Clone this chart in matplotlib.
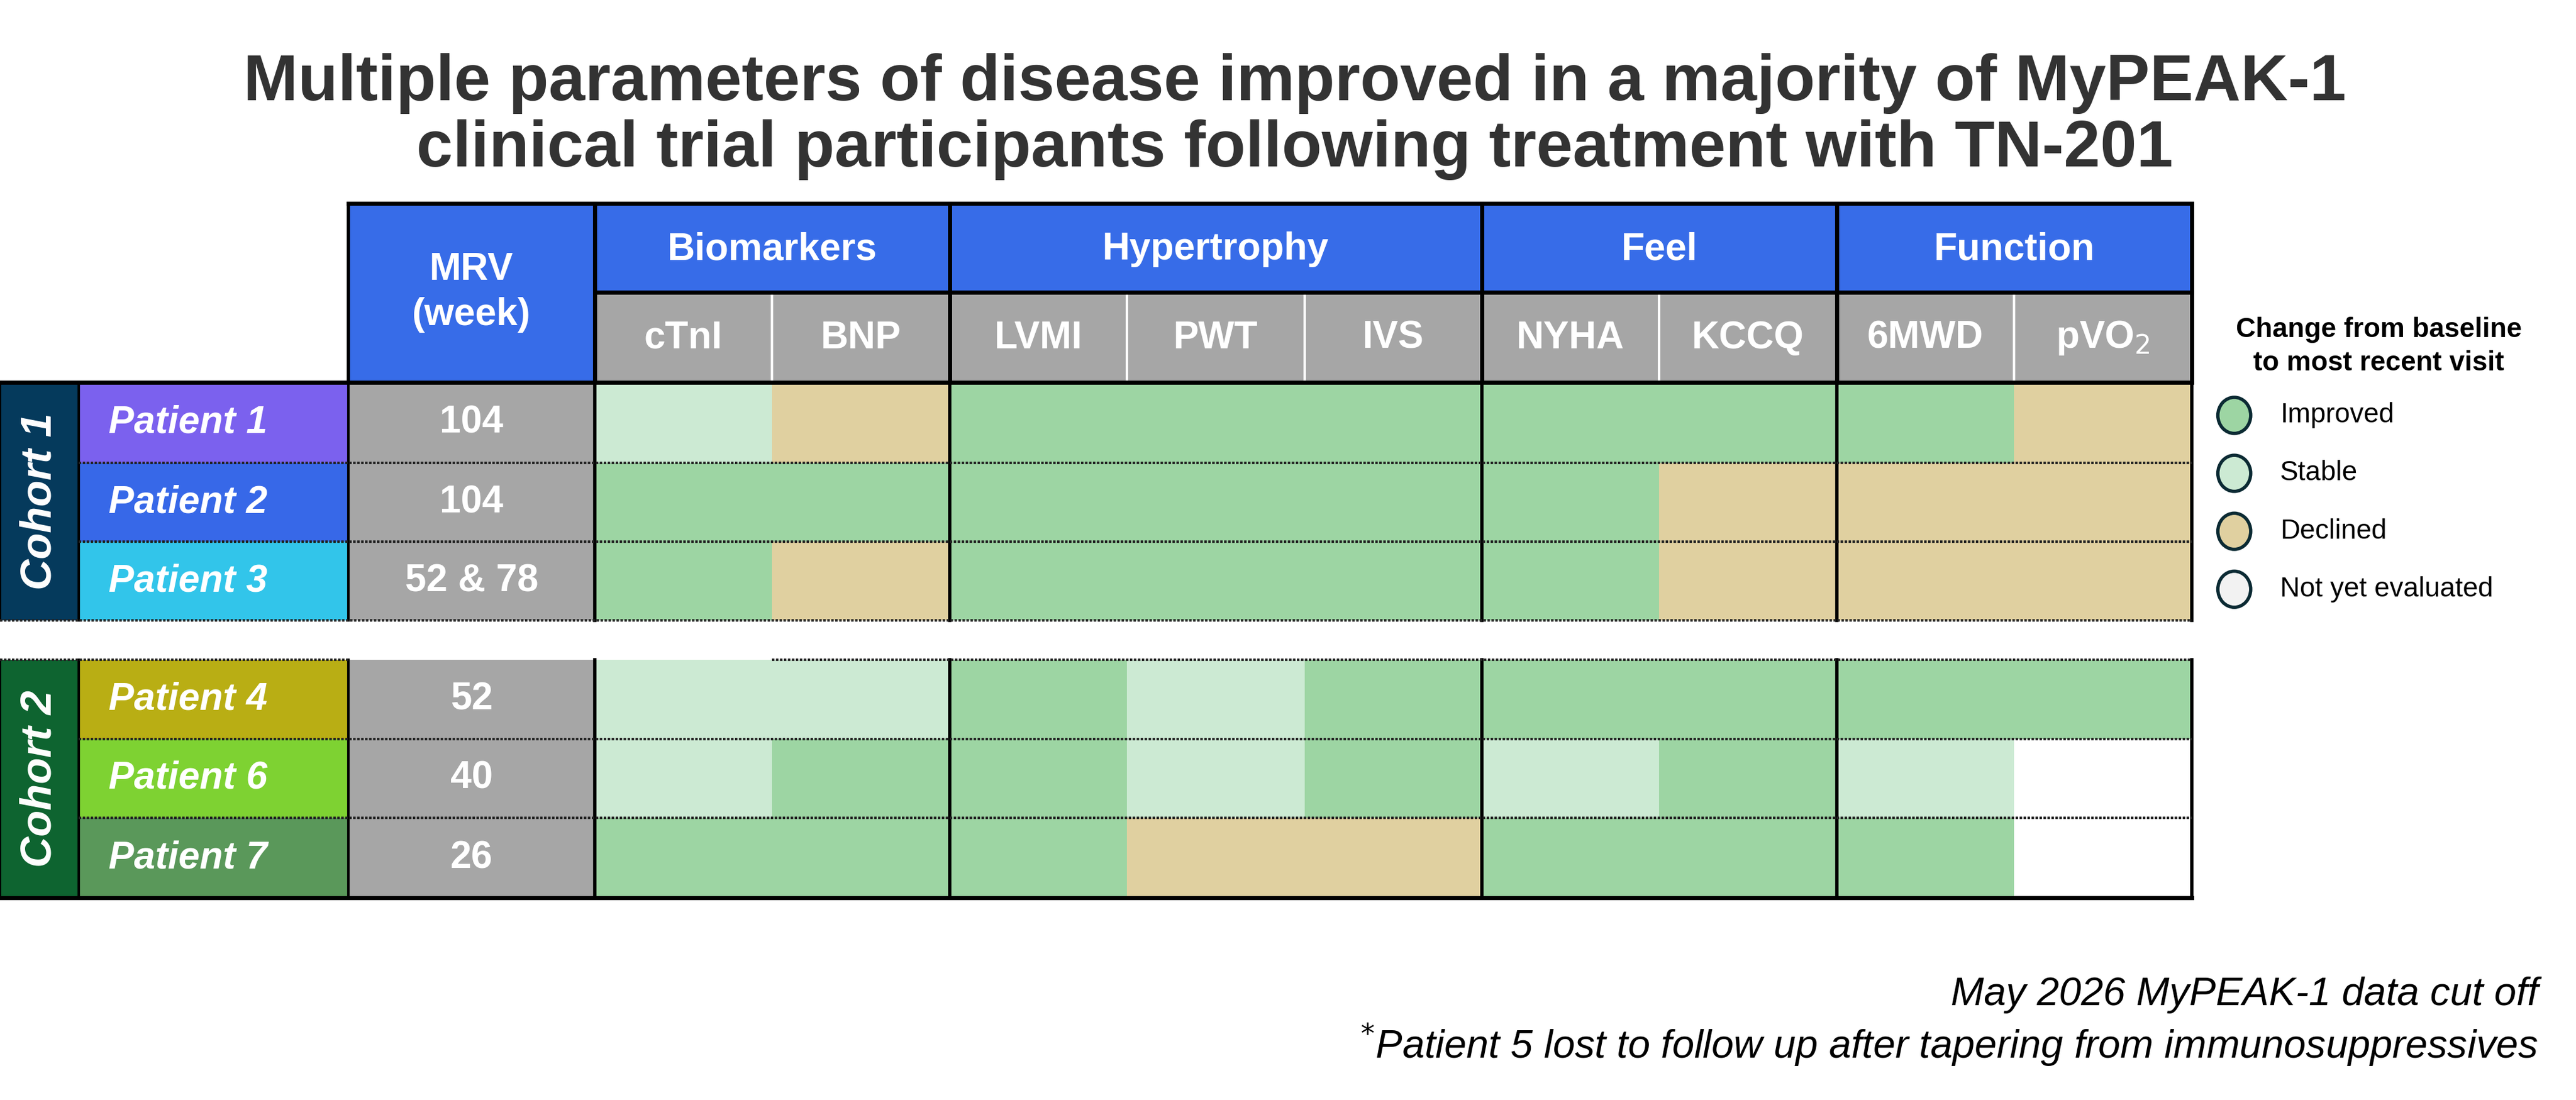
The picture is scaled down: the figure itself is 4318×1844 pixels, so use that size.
import matplotlib.pyplot as plt
from matplotlib.patches import Rectangle, Ellipse

plt.rcParams['font.family'] = ['Liberation Sans', 'DejaVu Sans']

groups = ["Biomarkers", "Hypertrophy", "Feel", "Function"]
group_span = [2, 3, 2, 2]
params = ["cTnI", "BNP", "LVMI", "PWT", "IVS", "NYHA", "KCCQ", "6MWD", "pVO$_2$"]
patients = ["Patient 1", "Patient 2", "Patient 3", "Patient 4", "Patient 6", "Patient 7"]
mrv = ["104", "104", "52 & 78", "52", "40", "26"]
status = [
    "SDIIIIIID",
    "IIIIIIDDD",
    "IDIIIIDDD",
    "SSISIIIII",
    "SIISISISN",
    "IIIDDIIIN",
]
legend_labels = ["Improved", "Stable", "Declined", "Not yet evaluated"]

col = {"I": "#9DD5A3", "S": "#CCEAD3", "D": "#E0D0A0", "N": "#FFFFFF"}
leg_col = ["#9DD5A3", "#CCEAD3", "#E0D0A0", "#F2F2F2"]
pat_col = ["#7B61EE", "#3768E8", "#32C5EA", "#B9AE14", "#7ED232", "#5A985A"]
cohort_col = ["#053A5C", "#0E6430"]
blue = "#376CE8"
gray = "#A6A6A6"

fig = plt.figure(figsize=(43.18, 18.44), dpi=100)
ax = fig.add_axes([0, 0, 1, 1])
ax.set_xlim(0, 1568)
ax.set_ylim(670, 0)
ax.axis("off")

ax.text(788, 71, "Multiple parameters of disease improved in a majority of MyPEAK-1\n"
        "clinical trial participants following treatment with TN-201",
        ha="center", va="center", fontsize=79, fontweight="bold",
        color="#333333", linespacing=1.12)

x0 = 362
cw = 108
row_top = [233, 282, 330, 402, 450, 498]
rh = [49, 48, 48, 48, 48, 49]

def rect(x, y, w, h, c):
    ax.add_patch(Rectangle((x, y), w, h, facecolor=c, edgecolor="none"))

# header
rect(212, 124, 150, 109, blue)
ax.text(287, 178, "MRV\n(week)", ha="center", va="center", color="white",
        fontsize=46, fontweight="bold", linespacing=1.35)
gx = x0
for g, s in zip(groups, group_span):
    rect(gx, 124, s * cw, 54, blue)
    ax.text(gx + s * cw / 2, 152, g, ha="center", va="center", color="white",
            fontsize=46, fontweight="bold")
    gx += s * cw
for j, p in enumerate(params):
    rect(x0 + j * cw, 178, cw, 55, gray)
    ax.text(x0 + j * cw + cw / 2, 206, p, ha="center", va="center", color="white",
            fontsize=46, fontweight="bold")
    if j > 0:
        ax.plot([x0 + j * cw] * 2, [178, 233], color="white", lw=3)

# body
for i, p in enumerate(patients):
    y, h = row_top[i], rh[i]
    rect(48, y, 164, h, pat_col[i])
    ax.text(66, y + h / 2, p, ha="left", va="center", color="white",
            fontsize=46, fontweight="bold", style="italic")
    rect(212, y, 150, h, gray)
    ax.text(287, y + h / 2, mrv[i], ha="center", va="center", color="white",
            fontsize=46, fontweight="bold")
    for j, s in enumerate(status[i]):
        rect(x0 + j * cw, y, cw, h, col[s])

for k, (y, h) in enumerate([(233, 145), (402, 145)]):
    rect(0, y, 48, h, cohort_col[k])
    ax.text(24, y + h / 2, "Cohort %d" % (k + 1), rotation=90, ha="center", va="center",
            color="white", fontsize=52, fontweight="bold", style="italic")

# lines
xr = x0 + 9 * cw
ax.plot([212, xr], [124, 124], color="black", lw=5)
ax.plot([362, xr], [178, 178], color="black", lw=5)
ax.plot([0, xr], [233, 233], color="black", lw=5)
ax.plot([0, xr], [547, 547], color="black", lw=5)
ax.plot([212, 212], [124, 233], color="black", lw=4)
for xb in [0, 48, 212, 362, 578, 902, 1118, xr]:
    for y0, y1 in [(233, 378), (402, 547)]:
        ax.plot([xb, xb], [y0, y1], color="black", lw=3 if xb < 362 else 4)
for xb in [362, 578, 902, 1118, xr]:
    ax.plot([xb, xb], [124, 233], color="black", lw=5)
for y in [282, 330, 450, 498]:
    ax.plot([48, xr], [y, y], color="#222222", lw=3, ls=(0, (1, 0.6)))
ax.plot([0, xr], [378, 378], color="#222222", lw=3, ls=(0, (1, 0.6)))
ax.plot([0, 212], [402, 402], color="#222222", lw=3, ls=(0, (1, 0.6)))
ax.plot([470, xr], [402, 402], color="#222222", lw=3, ls=(0, (1, 0.6)))

# legend
ax.text(1448, 211, "Change from baseline\nto most recent visit", ha="center", va="center",
        fontsize=33, fontweight="bold", linespacing=1.35)
for k, lab in enumerate(legend_labels):
    yy = 253 + k * 35.3
    ax.add_patch(Ellipse((1360, yy), 20, 22, facecolor=leg_col[k], edgecolor="#0B2A33", lw=4))
    ax.text(1388, yy, lab, ha="left", va="center", fontsize=33)

ax.text(1545, 606, "May 2026 MyPEAK-1 data cut off", ha="right", va="center",
        fontsize=48, style="italic")
ax.text(1545, 636, "$^{*}$Patient 5 lost to follow up after tapering from immunosuppressives",
        ha="right", va="center", fontsize=48, style="italic")

fig.savefig("out.png", dpi=100)
